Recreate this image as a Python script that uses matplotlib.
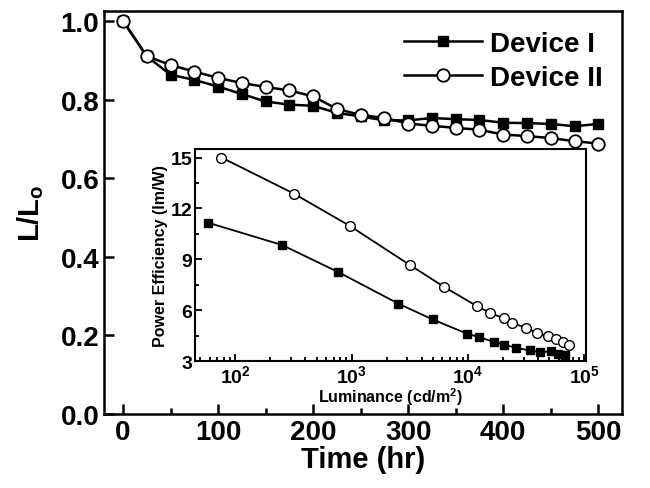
import numpy as np
import matplotlib
matplotlib.use('Agg')
from matplotlib import pyplot as plt
from matplotlib.ticker import MultipleLocator, LogLocator, LogFormatterMathtext, NullFormatter

plt.rcParams['font.family'] = ['Liberation Sans', 'DejaVu Sans']
plt.rcParams['font.weight'] = 'bold'
plt.rcParams['mathtext.default'] = 'regular'

# 寿命数据 (L/Lo vs time)
time_hr = [0, 25, 50, 75, 100, 125, 150, 175, 200, 225, 250, 275, 300,
           325, 350, 375, 400, 425, 450, 475, 500]
dev1_life = [1.0, 0.91, 0.863, 0.85, 0.833, 0.814, 0.795, 0.787, 0.784, 0.766, 0.757,
             0.747, 0.747, 0.753, 0.75, 0.748, 0.741, 0.74, 0.738, 0.732, 0.738]
dev2_life = [1.0, 0.91, 0.888, 0.871, 0.855, 0.842, 0.832, 0.823, 0.808, 0.776, 0.761,
             0.753, 0.739, 0.733, 0.728, 0.723, 0.711, 0.707, 0.702, 0.694, 0.688]

# 功率效率数据 (inset)
dev1_lum = [58, 252, 768, 2520, 4960, 9720, 12500, 16600, 20200, 25900,
            33800, 41800, 52000, 59300, 67700]
dev1_pe = [11.16, 9.84, 8.24, 6.38, 5.45, 4.62, 4.40, 4.13, 3.97, 3.78,
           3.62, 3.52, 3.57, 3.44, 3.34]
dev2_lum = [76, 318, 966, 3160, 6260, 11870, 15500, 20200, 23900, 31200,
            39000, 48600, 57300, 65500, 73300]
dev2_pe = [15.0, 12.87, 10.96, 8.66, 7.36, 6.24, 5.84, 5.51, 5.25, 4.96,
           4.66, 4.46, 4.27, 4.13, 3.97]

fig = plt.figure(figsize=(6.5, 4.89), dpi=100)
ax = fig.add_axes([0.16, 0.1513, 0.797, 0.824])

ax.plot(time_hr, dev1_life, '-s', color='black', lw=1.8, ms=7.5,
        mfc='black', mec='black', label='Device I')
ax.plot(time_hr, dev2_life, '-o', color='black', lw=1.8, ms=9,
        mfc='white', mec='black', mew=1.3, label='Device II')

ax.set_xlim(-20, 525)
ax.set_ylim(0, 1.025)
ax.xaxis.set_major_locator(MultipleLocator(100))
ax.xaxis.set_minor_locator(MultipleLocator(50))
ax.yaxis.set_major_locator(MultipleLocator(0.2))
ax.tick_params(which='both', direction='in', top=False, right=False,
               labelsize=20, width=1.8)
ax.tick_params(which='major', length=7)
ax.tick_params(which='minor', length=4)
for s in ax.spines.values():
    s.set_linewidth(1.8)
ax.set_xlabel('Time (hr)', fontsize=21, fontweight='bold', labelpad=0)
ax.set_ylabel('L/L$_\\mathregular{o}$', fontsize=21, fontweight='bold', labelpad=10)

leg = ax.legend(loc='upper right', frameon=False, fontsize=20, handlelength=2.8,
                handletextpad=0.3, labelspacing=0.3, borderaxespad=0.3)

# inset
ins = fig.add_axes([0.3, 0.2597, 0.6015, 0.4335])
ins.plot(dev1_lum, dev1_pe, '-s', color='black', lw=1.3, ms=6,
         mfc='black', mec='black')
ins.plot(dev2_lum, dev2_pe, '-o', color='black', lw=1.3, ms=7,
         mfc='white', mec='black', mew=1.0)
ins.set_xscale('log')
ins.set_xlim(45, 1.03e5)
ins.set_ylim(3, 15.5)
ins.xaxis.set_major_locator(LogLocator(base=10))
ins.xaxis.set_major_formatter(LogFormatterMathtext())
ins.xaxis.set_minor_locator(LogLocator(base=10, subs=np.arange(2, 10)))
ins.xaxis.set_minor_formatter(NullFormatter())
ins.yaxis.set_major_locator(MultipleLocator(3))
ins.yaxis.set_minor_locator(MultipleLocator(1.5))
ins.tick_params(which='both', direction='in', top=False, right=False,
                labelsize=14, width=1.3, pad=2)
ins.tick_params(which='major', length=5)
ins.tick_params(which='minor', length=3)
for s in ins.spines.values():
    s.set_linewidth(1.5)
ins.set_xlabel('Luminance (cd/m$^2$)', fontsize=11.5, fontweight='bold', labelpad=0)
ins.set_ylabel('Power Efficiency (lm/W)', fontsize=11.5, fontweight='bold', labelpad=2)

fig.savefig('out.png', dpi=100)
